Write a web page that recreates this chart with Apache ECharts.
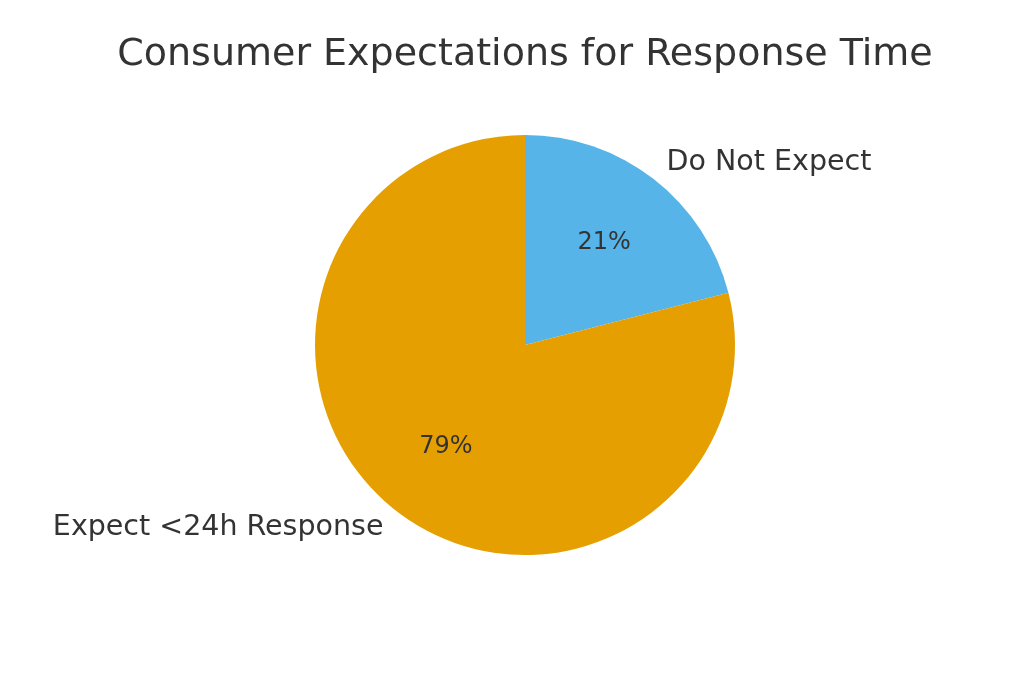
<!DOCTYPE html>
<html>
<head>
<meta charset="utf-8">
<style>
  html, body { margin: 0; padding: 0; background: #fff; }
  #chart { width: 1024px; height: 683px; }
</style>
<script src="https://cdn.jsdelivr.net/npm/echarts@6/dist/echarts.min.js"></script>
</head>
<body>
<div id="chart"></div>
<script>
var categories = ['Do Not Expect', 'Expect <24h Response'];
var shares = [21, 79];
var colors = ['#56B4E9', '#E69F00'];

var ink = '#333333';
var font = 'DejaVu Sans';

var pieData = categories.map(function(name, i) {
  return { name: name, value: shares[i], itemStyle: { color: colors[i] } };
});

var chart = echarts.init(document.getElementById('chart'), null, { renderer: 'canvas' });
chart.setOption({
  animation: false,
  title: {
    text: 'Consumer Expectations for Response Time',
    left: 520,
    textAlign: 'center',
    top: 31,
    textStyle: { color: ink, fontFamily: font, fontSize: 38, fontWeight: 'normal' }
  },
  series: [{
    // slices with the category names outside
    type: 'pie',
    center: [525, 345],
    radius: 210,
    startAngle: 90,
    clockwise: true,
    avoidLabelOverlap: false,
    data: pieData,
    label: {
      show: true,
      position: 'outside',
      formatter: '{b}',
      color: ink,
      fontFamily: font,
      fontSize: 28.5,
      distanceToLabelLine: 0
    },
    labelLine: { show: false, length: 21, length2: 0 },
    emphasis: { disabled: true }
  }, {
    // transparent ring, only used to place the percentages at 0.6 r
    type: 'pie',
    center: [525, 345],
    radius: 252,
    startAngle: 90,
    clockwise: true,
    silent: true,
    data: pieData.map(function(d) { return { name: d.name, value: d.value }; }),
    itemStyle: { color: 'transparent' },
    label: {
      show: true,
      position: 'inside',
      formatter: function(p) { return Math.round(p.percent) + '%'; },
      color: ink,
      fontFamily: font,
      fontSize: 24
    },
    labelLine: { show: false }
  }]
});
window.addEventListener('resize', function() { chart.resize(); });
</script>
</body>
</html>
